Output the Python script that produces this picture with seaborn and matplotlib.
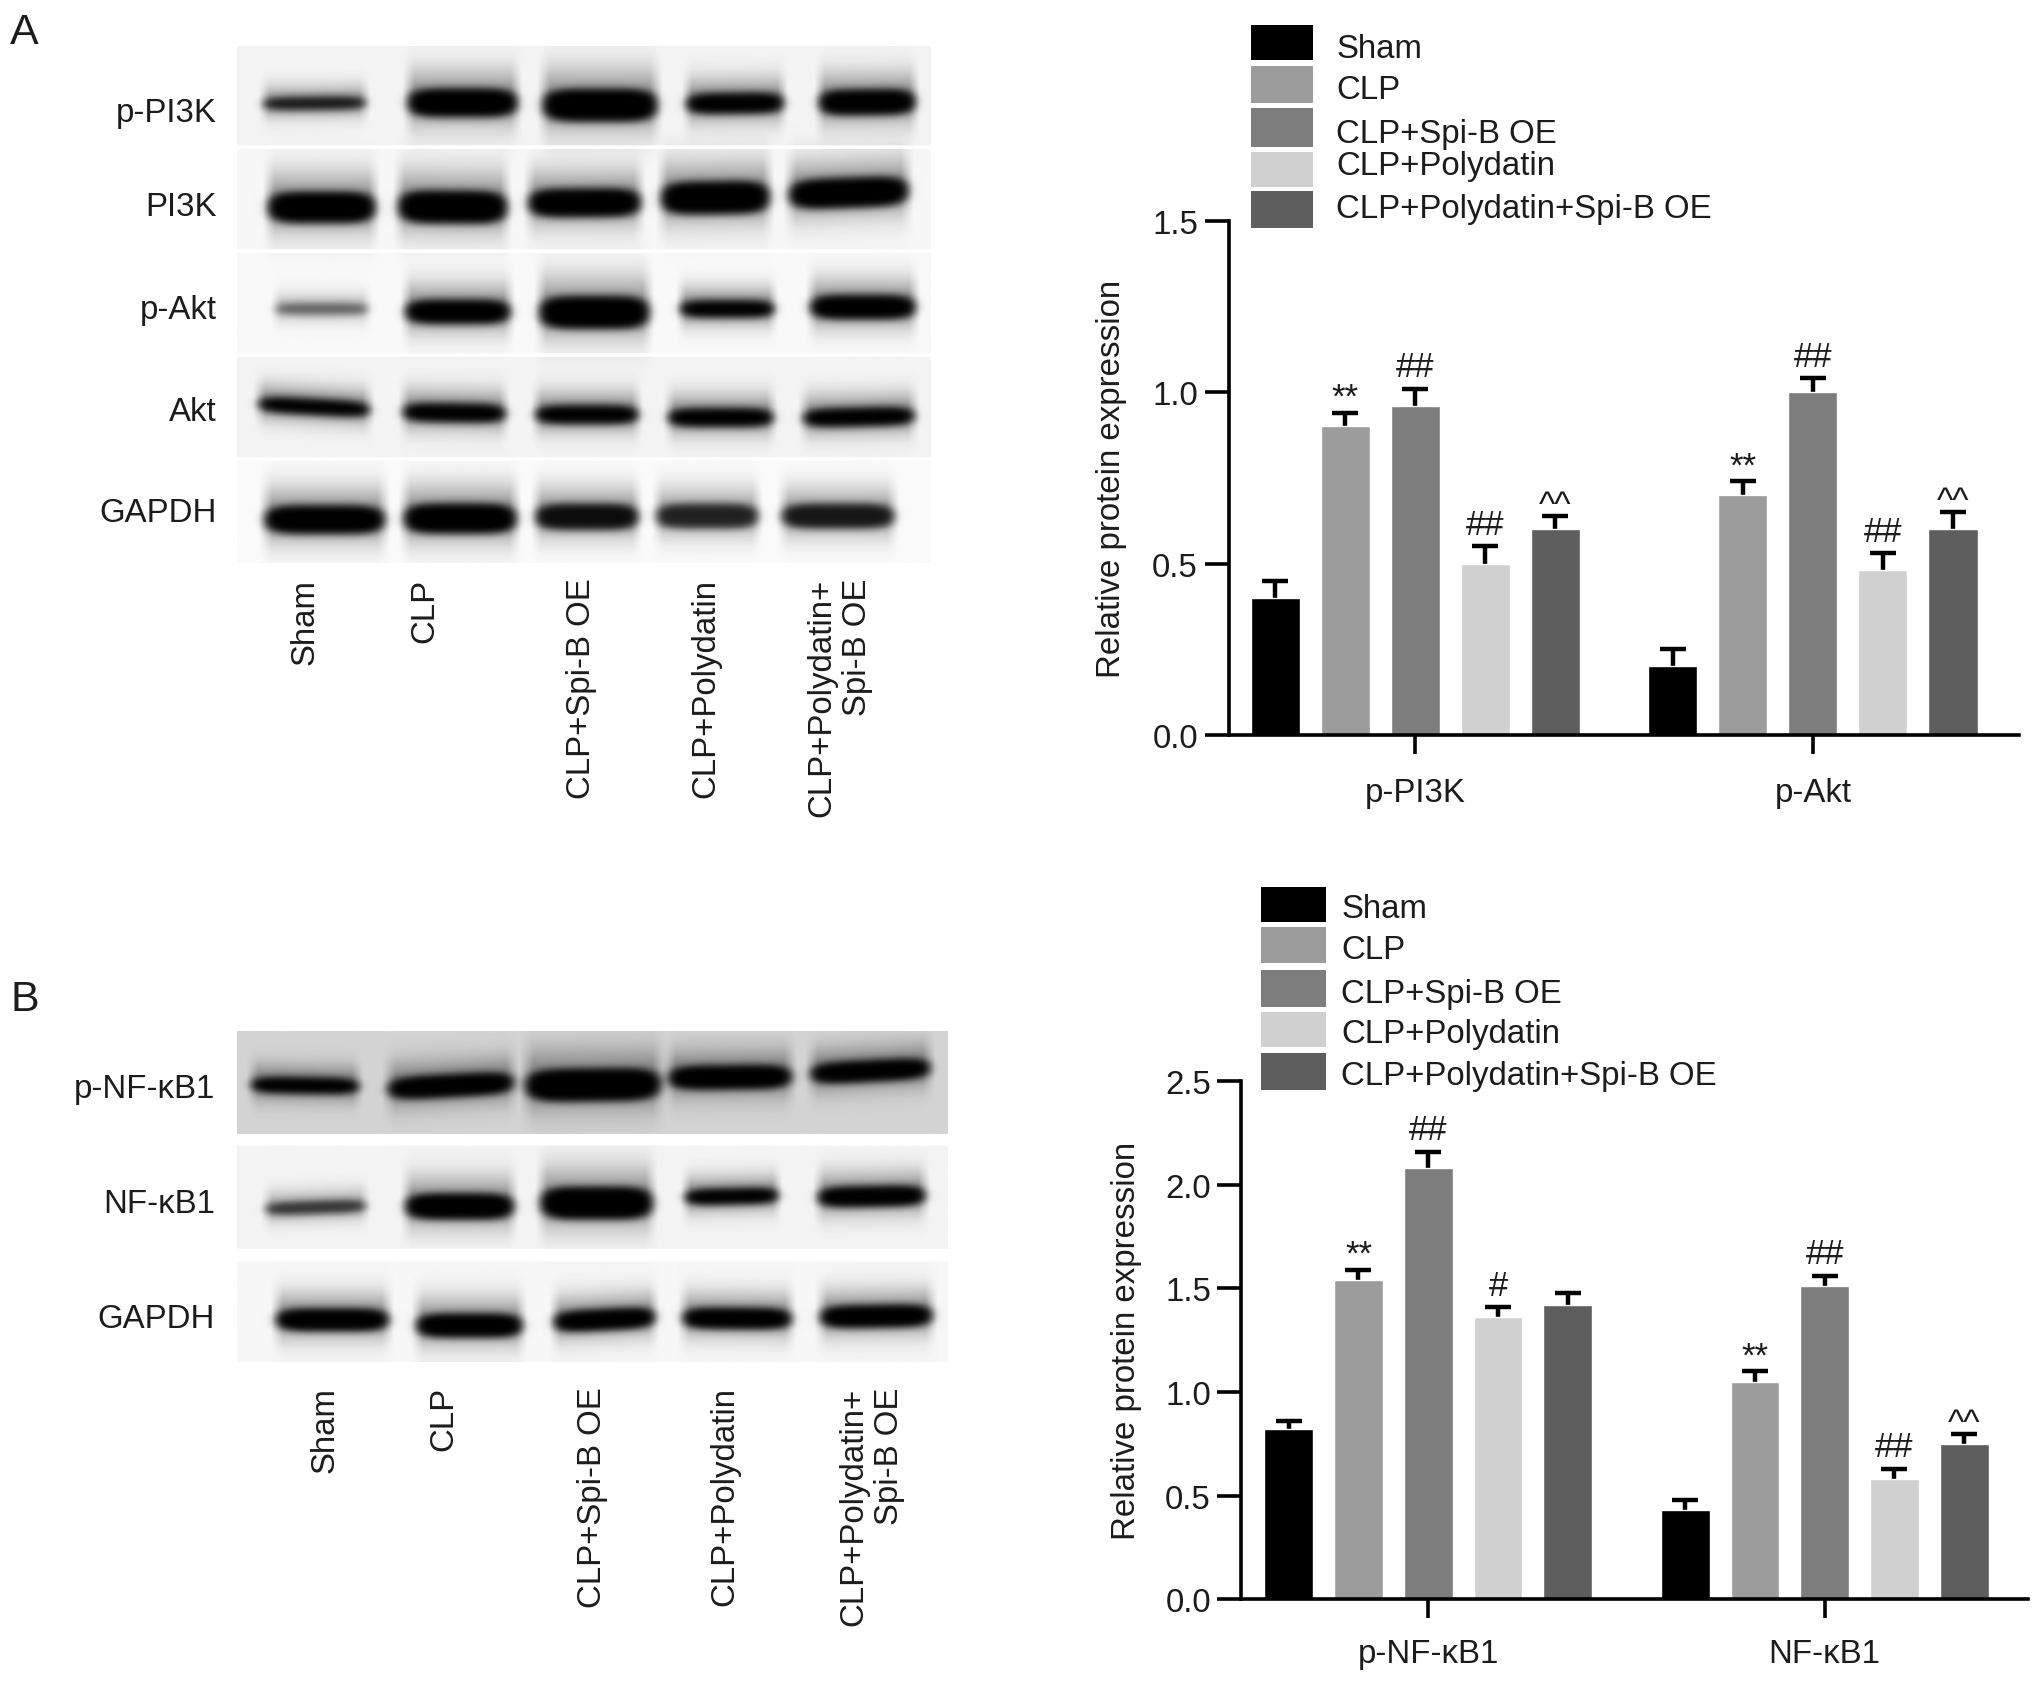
import numpy as np
import pandas as pd
import seaborn as sns
import matplotlib.pyplot as plt
from matplotlib.patches import Rectangle

groups = ['Sham', 'CLP', 'CLP+Spi-B OE', 'CLP+Polydatin', 'CLP+Polydatin+Spi-B OE']
greys = ['#000000', '#9c9c9c', '#7d7d7d', '#d0d0d0', '#5e5e5e']

# panel A chart
a_proteins = ['p-PI3K', 'p-Akt']
a_pi3k = [0.40, 0.90, 0.96, 0.50, 0.60]
a_pi3k_top = [0.45, 0.94, 1.01, 0.55, 0.64]
a_akt = [0.20, 0.70, 1.00, 0.48, 0.60]
a_akt_top = [0.25, 0.74, 1.04, 0.53, 0.65]
a_marks = [['', '**', '##', '##', '^^'], ['', '**', '##', '##', '^^']]
a_yticks = [0.0, 0.5, 1.0, 1.5]

# panel B chart
b_proteins = ['p-NF-κB1', 'NF-κB1']
b_pnf = [0.82, 1.54, 2.08, 1.36, 1.42]
b_pnf_top = [0.86, 1.59, 2.16, 1.41, 1.48]
b_nf = [0.43, 1.05, 1.51, 0.58, 0.75]
b_nf_top = [0.48, 1.10, 1.56, 0.63, 0.80]
b_marks = [['', '**', '##', '#', ''], ['', '**', '##', '##', '^^']]
b_yticks = [0.0, 0.5, 1.0, 1.5, 2.0, 2.5]

# blot bands: x left, x right, y left, y right, half height, darkness
blot_a_strips = [(45, 325, 0.955), (335, 615, 0.965), (625, 905, 0.975), (915, 1195, 0.955), (1205, 1490, 0.98)]
blot_a_bands = [
    (95, 310, 208, 205, 18, 0.85), (400, 630, 205, 205, 40, 1), (685, 925, 212, 212, 46, 1),
    (988, 1192, 208, 205, 29, 1), (1268, 1470, 205, 202, 36, 1),
    (105, 330, 497, 497, 44, 1), (380, 608, 495, 497, 46, 1), (655, 890, 485, 483, 40, 1),
    (935, 1162, 472, 468, 46, 1), (1205, 1455, 462, 450, 42, 1),
    (120, 315, 780, 780, 16, 0.5), (395, 615, 788, 788, 34, 1), (678, 908, 790, 790, 46, 1),
    (975, 1172, 780, 780, 24, 1), (1250, 1470, 775, 775, 34, 1),
    (85, 318, 1045, 1062, 22, 1), (390, 605, 1068, 1072, 26, 1), (670, 885, 1075, 1075, 26, 1),
    (950, 1170, 1083, 1083, 26, 1), (1235, 1468, 1085, 1078, 26, 1),
    (98, 350, 1368, 1368, 40, 1), (392, 628, 1365, 1365, 42, 1), (670, 885, 1360, 1360, 36, 0.92),
    (925, 1138, 1358, 1358, 34, 0.8), (1190, 1425, 1358, 1358, 34, 0.86),
]
blot_b_strips = [(30, 340, 0.83), (375, 682, 0.955), (718, 1020, 0.965)]
blot_b_bands = [
    (70, 295, 192, 197, 24, 1), (358, 622, 205, 185, 34, 1), (648, 932, 195, 190, 49, 1),
    (950, 1208, 172, 168, 36, 1), (1250, 1500, 160, 142, 32, 1),
    (100, 310, 563, 553, 19, 0.7), (395, 622, 555, 555, 39, 1), (680, 915, 545, 545, 49, 1),
    (985, 1180, 528, 522, 24, 1), (1265, 1490, 528, 522, 31, 1),
    (122, 358, 893, 893, 34, 1), (418, 640, 910, 910, 36, 1), (708, 920, 900, 885, 32, 1),
    (980, 1208, 888, 890, 32, 1), (1270, 1505, 885, 880, 34, 1),
]

W, H = 2032, 1683
S = W / 1568

sns.set_theme(style='ticks')
plt.rcParams['font.family'] = ['Liberation Sans', 'DejaVu Sans']
plt.rcParams['text.color'] = '#1c1c1c'
plt.rcParams['axes.labelcolor'] = '#1c1c1c'
plt.rcParams['xtick.labelcolor'] = '#1c1c1c'
plt.rcParams['ytick.labelcolor'] = '#1c1c1c'
FS = 23.8

fig = plt.figure(figsize=(W / 100, H / 100), dpi=100)


def add_axes_view(x0, y0, x1, y1):
    # box given in view pixels, y going down
    return fig.add_axes([x0 * S / W, 1 - y1 * S / H, (x1 - x0) * S / W, (y1 - y0) * S / H])


def ftext(x, y, s, **kw):
    if kw.get('va') == 'center':
        y = y + 2.5
    fig.text(x * S / W, 1 - y * S / H, s, fontsize=kw.pop('fontsize', FS), **kw)


def blur(a, sigma):
    kx = np.arange(-int(3 * sigma), int(3 * sigma) + 1)
    k = np.exp(-0.5 * (kx / sigma) ** 2)
    k /= k.sum()
    a = np.apply_along_axis(lambda m: np.convolve(m, k, mode='same'), 0, a)
    return np.apply_along_axis(lambda m: np.convolve(m, k, mode='same'), 1, a)


def draw_blot(ax, strips, bands, x0, x1, y0, y1):
    xs = np.arange(x0, x1, 2.5)
    ys = np.arange(y0, y1, 2.5)
    X, Y = np.meshgrid(xs, ys)
    dark = np.zeros_like(X)
    halo = np.zeros_like(X)
    for bx0, bx1, by0, by1, hh, s in bands:
        cx = (bx0 + bx1) / 2
        hw = (bx1 - bx0) / 2
        cy = by0 + (by1 - by0) * (X - bx0) / (bx1 - bx0)
        u = (X - cx) / hw
        v = (Y - cy) / hh
        r = np.sqrt(np.abs(u) ** 5 + np.abs(v) ** 2.6)
        dark = np.maximum(dark, s * np.clip((1.15 - r) / 0.3, 0, 1))
        spread = hh * 1.5 + 18
        edge = np.clip((1.1 - np.abs(u)) / 0.22, 0, 1)
        halo += 0.42 * s * edge * np.exp(-((Y - cy + 0.3 * hh) / spread) ** 2)
    dark = blur(dark, 4.0)
    img = np.ones_like(X)
    for top, bot, bg in strips:
        img[(Y >= top) & (Y < bot)] = bg
    gaps = img == 1.0
    img = img * (1 - np.clip(dark + halo * (1 - dark), 0, 1))
    img[gaps] = 1.0
    ax.imshow(img, cmap='gray', vmin=0, vmax=1, aspect='auto', interpolation='bilinear',
              extent=[x0, x1, y1, y0])
    ax.axis('off')


def draw_bars(ax, proteins, values, tops, marks, yticks, ymax, xlim, label_x, xpad):
    df = pd.DataFrame({
        'protein': np.repeat(proteins, len(groups)),
        'group': groups * len(proteins),
        'value': values[0] + values[1],
    })
    sns.barplot(data=df, x='protein', y='value', hue='group', hue_order=groups,
                palette=dict(zip(groups, greys)), saturation=1, width=0.88, gap=0.30,
                legend=False, errorbar=None, ax=ax, zorder=3)
    # errorbar() appends to ax.containers, so take the bars first
    bar_sets = list(ax.containers)
    mark_offset = {'**': -0.8, '##': 4, '#': 4, '^^': -4.5}
    for i, cont in enumerate(bar_sets):
        for j, bar in enumerate(cont):
            cx = bar.get_x() + bar.get_width() / 2
            val = values[j][i]
            top = tops[j][i]
            _, caps, _ = ax.errorbar(cx, val, yerr=[[0], [top - val]], fmt='none', ecolor='black',
                                     elinewidth=3.2, capsize=9.5, capthick=3.2, zorder=2, clip_on=False)
            caps[0].remove()  # only the upper cap is drawn
            if marks[j][i]:
                ax.annotate(marks[j][i], (cx, top), xytext=(0, mark_offset[marks[j][i]]),
                            textcoords='offset points', ha='center', va='bottom', fontsize=25)
    ax.set_xlim(*xlim)
    ax.set_ylim(0, ymax)
    ax.set_yticks(yticks)
    ax.set_yticklabels([f'{t:.1f}' for t in yticks], fontsize=FS)
    ax.set_xlabel('')
    ax.set_ylabel('Relative protein expression', fontsize=FS)
    ax.yaxis.set_label_coords(label_x, 0.5)
    ax.tick_params(axis='y', length=17, width=2.6, pad=5, color='black')
    ax.tick_params(axis='x', length=14, width=2.6, pad=xpad, color='black', labelsize=FS)
    for side in ['top', 'right']:
        ax.spines[side].set_visible(False)
    for side in ['left', 'bottom']:
        ax.spines[side].set_linewidth(2.6)
        ax.spines[side].set_color('black')
        ax.spines[side].set_zorder(5)  # keep the axis line over the bars


def draw_legend(boxes, text_ys, box_x0, box_x1, text_x):
    for (y0, y1), ty, col, name in zip(boxes, text_ys, greys, groups):
        fig.add_artist(Rectangle((box_x0 * S / W, 1 - y1 * S / H), (box_x1 - box_x0) * S / W,
                                 (y1 - y0) * S / H, transform=fig.transFigure,
                                 facecolor=col, edgecolor='none'))
        ftext(text_x, ty, name, va='center', ha='left')


# panel letters
ftext(8, 23, 'A', fontsize=31, va='center', ha='left')
ftext(8, 769, 'B', fontsize=31, va='center', ha='left')

# blots
ax_blot_a = add_axes_view(183, 36, 718, 435)
draw_blot(ax_blot_a, blot_a_strips, blot_a_bands, 40, 1505, 45, 1490)
ax_blot_b = add_axes_view(183, 796, 731, 1052)
draw_blot(ax_blot_b, blot_b_strips, blot_b_bands, 40, 1540, 30, 1020)

for name, y in zip(['p-PI3K', 'PI3K', 'p-Akt', 'Akt', 'GAPDH'], [85, 158, 237, 316, 394]):
    ftext(167, y, name, ha='right', va='center')
for name, y in zip(['p-NF-κB1', 'NF-κB1', 'GAPDH'], [838, 927, 1016]):
    ftext(166, y, name, ha='right', va='center')

a_lane_x = [235.5, 327.5, 448.5, 544.5, 648]
b_lane_x = [250.5, 342.5, 457.5, 559.5, 672.5]
lane_names = ['Sham', 'CLP', 'CLP+Spi-B OE', 'CLP+Polydatin', 'CLP+Polydatin+\nSpi-B OE']
for x, name in zip(a_lane_x, lane_names):
    ftext(x, 446.5, name, rotation=90, ha='center', va='top', multialignment='right')
for x, name in zip(b_lane_x, lane_names):
    ftext(x, 1070.5, name, rotation=90, ha='center', va='top', multialignment='right')

# bar charts
ax_a = add_axes_view(948, 171, 1558, 568)
draw_bars(ax_a, a_proteins, [a_pi3k, a_akt], [a_pi3k_top, a_akt_top], a_marks, a_yticks, 1.5,
          (-0.469, 1.518), -0.129, 16.5)
ax_b = add_axes_view(958, 835, 1565, 1235)
draw_bars(ax_b, b_proteins, [b_pnf, b_nf], [b_pnf_top, b_nf_top], b_marks, b_yticks, 2.5,
          (-0.471, 1.513), -0.126, 13.5)

draw_legend([(20, 47), (52, 80), (84, 114), (118, 145), (148, 177)], [36, 67, 101, 126, 159], 965, 1013, 1031)
draw_legend([(685, 712), (716, 744), (749, 778), (782, 809), (813, 842)], [699, 731, 765, 796, 828], 973, 1023, 1035)

fig.savefig('out.png', dpi=100)
